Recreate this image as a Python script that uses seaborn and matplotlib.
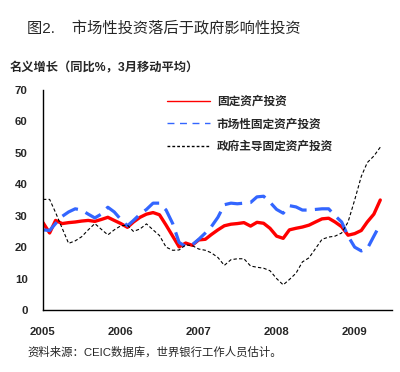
import pandas as pd
import matplotlib
matplotlib.use('Agg')
import matplotlib.pyplot as plt
from matplotlib.lines import Line2D
import seaborn as sns

# monthly, Jan 2005 - May 2009 (3-month moving average, y/y %)
months = pd.date_range('2005-01-01', periods=53, freq='MS')

total_fai = [27.8, 24.5, 28.5, 27.5, 27.8, 28.0, 28.3, 28.5, 28.2, 28.8, 29.5, 28.5,
             27.5, 26.3, 28.0, 29.5, 30.5, 31.0, 30.3, 27.0, 23.5, 20.1, 21.3, 20.6,
             22.3, 22.5, 24.0, 25.5, 26.8, 27.3, 27.5, 27.8, 26.7, 27.9, 27.6, 26.0,
             23.5, 22.8, 25.5, 26.0, 26.4, 27.0, 28.0, 29.0, 29.2, 28.0, 26.5, 23.8,
             24.3, 25.3, 28.0, 30.5, 35.0]

market_fai = [25.5, 25.3, 27.5, 29.8, 31.2, 32.2, 31.8, 30.5, 29.3, 30.5, 32.7, 31.2,
              28.8, 26.8, 28.5, 30.5, 32.0, 34.0, 34.0, 31.8, 27.5, 21.5, 20.2, 20.7,
              22.5, 24.5, 26.5, 29.5, 33.5, 34.0, 33.8, 34.0, 34.2, 36.0, 36.2, 34.3,
              32.0, 30.8, 33.2, 32.8, 31.8, 31.8, 32.0, 32.2, 32.2, 30.0, 28.0, 23.5,
              20.0, 18.8, 19.5, 23.5, 27.3]

gov_fai = [35.2, 35.2, 31.0, 26.0, 21.2, 22.0, 23.3, 25.5, 27.5, 25.7, 23.9, 25.5,
           26.8, 27.0, 25.0, 25.8, 27.4, 25.5, 23.7, 20.0, 19.0, 19.1, 20.7, 20.5,
           19.4, 19.0, 18.2, 16.7, 14.2, 16.0, 16.3, 16.3, 14.0, 13.6, 13.3, 12.5,
           10.0, 8.0, 9.7, 11.7, 15.3, 16.6, 19.5, 22.5, 23.2, 23.5, 24.5, 28.0,
           35.0, 42.5, 46.9, 49.0, 51.8]

labels = ['固定资产投资', '市场性固定资产投资', '政府主导固定资产投资']
year_ticks = ['2005', '2006', '2007', '2008', '2009']
y_ticks = [0, 10, 20, 30, 40, 50, 60, 70]

df = pd.DataFrame({'Date': months, 'total': total_fai,
                   'market': market_fai, 'gov': gov_fai})

sns.set_style('white')
plt.rcParams['font.family'] = ['Liberation Sans', 'Noto Sans CJK SC', 'DejaVu Sans']

fig = plt.figure(figsize=(4.0, 3.72), dpi=100)
ax = fig.add_axes([0.1075, 0.1667, 0.8725, 0.5913])

sns.lineplot(x='Date', y='total', data=df, ax=ax, color='#ff0000', linewidth=2.4)
sns.lineplot(x='Date', y='market', data=df, ax=ax, color='#3366ff', linewidth=2.3)
ax.lines[-1].set_dashes([5.5, 2.6])
sns.lineplot(x='Date', y='gov', data=df, ax=ax, color='black', linewidth=0.8)
ax.lines[-1].set_dashes([3, 2])

ax.set_xlim(pd.Timestamp('2005-01-01'), pd.Timestamp('2009-06-25'))
ax.set_ylim(0, 70)
ax.set_yticks(y_ticks)
ax.set_yticklabels([str(v) for v in y_ticks], fontsize=8.2, fontweight='bold')
ax.set_xticks([pd.Timestamp(y + '-01-01') for y in year_ticks])
ax.set_xticklabels(year_ticks, fontsize=8.2, fontweight='bold')
ax.tick_params(axis='x', direction='in', length=3, width=1, pad=12)
ax.tick_params(axis='y', direction='out', length=3, width=1, pad=8)
ax.set_xlabel('')
ax.set_ylabel('')

for side in ['top', 'right']:
    ax.spines[side].set_visible(False)
for side in ['left', 'bottom']:
    ax.spines[side].set_color('black')
    ax.spines[side].set_linewidth(1)

# legend with thin handles, like the original
handles = [Line2D([], [], color='#ff0000', linewidth=1),
           Line2D([], [], color='#3366ff', linewidth=1, dashes=[5, 4]),
           Line2D([], [], color='black', linewidth=1, dashes=[2, 1.5])]
leg = fig.legend(handles, labels, loc='upper left', bbox_to_anchor=(0.39, 0.77),
                 frameon=False, handlelength=3.7, handletextpad=0.6,
                 labelspacing=0.9, prop={'size': 8.4, 'weight': 'bold'})

fig.text(0.068, 0.925, '图2.    市场性投资落后于政府影响性投资', fontsize=11, va='center')
fig.text(0.025, 0.817, '名义增长（同比%，3月移动平均）', fontsize=8.8,
         fontweight='bold', va='center')
fig.text(0.068, 0.053, '资料来源：CEIC数据库，世界银行工作人员估计。', fontsize=8.2,
         va='center')

plt.savefig('out.png', dpi=100, facecolor='white')
